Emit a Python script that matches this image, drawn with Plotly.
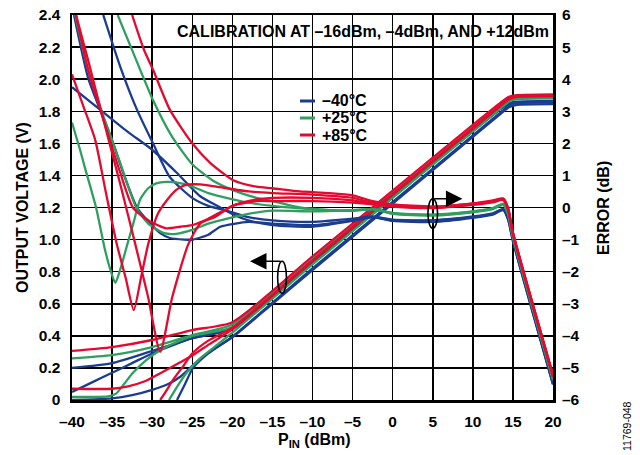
import plotly.graph_objects as go

# ---------------- DATA ----------------
x_ticks = [-40, -35, -30, -25, -20, -15, -10, -5, 0, 5, 10, 15, 20]
x_ticktext = ["–40", "–35", "–30", "–25", "–20", "–15", "–10", "–5", "0", "5", "10", "15", "20"]
v_ticks = [0, 0.2, 0.4, 0.6, 0.8, 1.0, 1.2, 1.4, 1.6, 1.8, 2.0, 2.2, 2.4]
v_ticktext = ["0", "0.2", "0.4", "0.6", "0.8", "1.0", "1.2", "1.4", "1.6", "1.8", "2.0", "2.2", "2.4"]
e_ticks = [-6, -5, -4, -3, -2, -1, 0, 1, 2, 3, 4, 5, 6]
e_ticktext = ["–6", "–5", "–4", "–3", "–2", "–1", "0", "1", "2", "3", "4", "5", "6"]

legend_labels = ["–40°C", "+25°C", "+85°C"]

# Output voltage curves (V) vs PIN (dBm)
bv1_p = [-40, -35, -30, -25, -20, -10, 0, 10, 13.5, 14.5, 15.5, 20]
bv1_v = [0.20, 0.23, 0.306, 0.385, 0.45, 0.86, 1.27, 1.68, 1.82, 1.85, 1.86, 1.865]
bv2_p = [-40, -37.5, -35, -32.5, -30, -25, -20, -10, 0, 10, 13.5, 14.5, 15.5, 20]
bv2_v = [0.05, 0.11, 0.17, 0.23, 0.29, 0.385, 0.445, 0.855, 1.265, 1.675, 1.815, 1.845, 1.855, 1.86]
bv3_p = [-40, -35, -32.5, -29.9, -28, -26.5, -23.7, -20, -15, -10, 0, 10, 13.5, 14.5, 15.5, 20]
bv3_v = [0.0, 0.01, 0.03, 0.065, 0.10, 0.145, 0.27, 0.39, 0.60, 0.81, 1.225, 1.64, 1.785, 1.825, 1.84, 1.845]
bv4_p = [-26.9, -25.9, -24.9, -23, -21, -20, -10, 0, 10, 13.5, 14.5, 15.5, 20]
bv4_v = [0.0, 0.10, 0.20, 0.29, 0.36, 0.395, 0.82, 1.235, 1.65, 1.795, 1.835, 1.85, 1.855]

gv1_p = [-40, -35, -30, -25, -20, -10, 0, 10, 13.5, 14.5, 15.5, 20]
gv1_v = [0.26, 0.28, 0.33, 0.405, 0.47, 0.88, 1.29, 1.70, 1.843, 1.875, 1.885, 1.89]
gv2_p = [-40, -35.5, -34.5, -33.5, -32.4, -30.7, -29, -27, -25, -20, -10, 0, 10, 13.5, 14.5, 15.5, 20]
gv2_v = [0.02, 0.022, 0.04, 0.10, 0.17, 0.25, 0.31, 0.36, 0.40, 0.455, 0.87, 1.28, 1.69, 1.835, 1.87, 1.88, 1.885]
gv3_p = [-27.9, -26.8, -25.7, -24, -22, -20, -10, 0, 10, 13.5, 14.5, 15.5, 20]
gv3_v = [0.0, 0.09, 0.17, 0.26, 0.34, 0.42, 0.845, 1.26, 1.675, 1.82, 1.86, 1.875, 1.88]

rv1_p = [-40, -35, -30, -25, -20, -10, 0, 10, 13.5, 14.5, 15.5, 20]
rv1_v = [0.306, 0.33, 0.374, 0.436, 0.485, 0.895, 1.305, 1.715, 1.855, 1.89, 1.90, 1.905]
rv2_p = [-40, -35, -33, -31, -28.7, -26.5, -24.9, -22.8, -20, -10, 0, 10, 13.5, 14.5, 15.5, 20]
rv2_v = [0.07, 0.07, 0.085, 0.115, 0.175, 0.235, 0.28, 0.35, 0.44, 0.865, 1.28, 1.69, 1.835, 1.875, 1.89, 1.895]
rv3_p = [-29, -28.2, -27.4, -26, -25, -23, -20, -10, 0, 10, 13.5, 14.5, 15.5, 20]
rv3_v = [0.0, 0.06, 0.125, 0.22, 0.29, 0.37, 0.45, 0.87, 1.285, 1.695, 1.84, 1.88, 1.895, 1.90]

# Error curves (dB) vs PIN (dBm)
be1_p = [-39.75, -38, -36.5, -35, -33.5, -31.9, -30.6, -29, -27.8, -26, -24.9, -23, -21.5, -18, -15, -10, -5, -2.5, 0, 5, 10, 12.5, 13.8, 14.4, 15, 20]
be1_e = [6.0, 4.05, 3.05, 2.1, 1.0, 0.0, -0.4, -0.8, -0.95, -1.0, -1.0, -0.85, -0.6, -0.45, -0.5, -0.55, -0.4, -0.3, -0.42, -0.45, -0.32, -0.22, -0.08, -0.38, -1.05, -5.52]
be2_p = [-40, -36.5, -33, -30, -27, -24, -21.5, -20, -18, -15, -10, -5, -2.5, 0, 5, 10, 12.5, 13.8, 14.4, 15, 20]
be2_e = [3.75, 3.05, 2.35, 1.8, 1.1, 0.35, 0.0, -0.2, -0.4, -0.55, -0.6, -0.42, -0.3, -0.4, -0.4, -0.28, -0.18, -0.04, -0.34, -1.0, -5.48]
be3_p = [-36.1, -34, -31.9, -29.9, -27.8, -25, -23, -21.5, -20, -18, -15, -10, -5, -2.5, 0, 5, 10, 12.5, 13.8, 14.4, 15, 20]
be3_e = [6.0, 4.4, 3.05, 2.0, 0.95, 0.3, 0.05, -0.05, -0.15, -0.3, -0.4, -0.45, -0.35, -0.28, -0.38, -0.4, -0.3, -0.2, -0.06, -0.36, -1.02, -5.5]

ge1_p = [-40, -39, -38.4, -37, -35.9, -35.2, -34.6, -34, -33.1, -32.3, -31.5, -30.5, -29.5, -28.2, -27, -25, -23, -21.5, -18, -15, -10, -5, -2.5, 0, 5, 10, 12.5, 13.8, 14.4, 15, 20]
ge1_e = [2.65, 1.8, 1.25, 0.0, -1.3, -1.95, -2.35, -1.95, -1.15, -0.45, 0.25, 0.6, 0.75, 0.8, 0.78, 0.65, 0.45, 0.35, 0.15, 0.05, -0.05, -0.1, -0.05, -0.18, -0.22, -0.12, -0.02, 0.12, -0.18, -0.9, -5.35]
ge2_p = [-39.6, -38, -36.3, -34, -32, -30.5, -28.5, -27, -25, -23, -21.5, -18, -15, -10, -5, -2.5, 0, 5, 10, 12.5, 13.8, 14.4, 15, 20]
ge2_e = [6.0, 4.3, 3.0, 1.4, 0.0, -0.5, -0.8, -0.82, -0.7, -0.5, -0.4, -0.2, -0.1, -0.12, -0.08, -0.05, -0.2, -0.25, -0.15, -0.05, 0.08, -0.22, -0.92, -5.38]
ge3_p = [-34.3, -32, -29.9, -27.5, -25, -22.5, -20, -17, -15, -11.6, -8, -5, -2.5, 0, 5, 10, 12.5, 13.8, 14.4, 15, 20]
ge3_e = [6.0, 4.6, 3.35, 2.2, 1.35, 0.85, 0.55, 0.3, 0.2, 0.0, -0.08, -0.1, -0.05, -0.17, -0.23, -0.13, -0.03, 0.1, -0.2, -0.88, -5.33]

re1_p = [-39.5, -38, -36.1, -34, -32.4, -30.5, -28.2, -26.5, -25, -23, -21.5, -19.5, -17, -15, -10, -5, -2.5, 0, 5, 10, 12.5, 13.8, 14.4, 15, 20]
re1_e = [6.0, 4.3, 2.75, 1.1, 0.0, -0.4, -0.65, -0.6, -0.55, -0.35, -0.15, 0.1, 0.25, 0.3, 0.3, 0.22, 0.12, 0.05, 0.0, 0.1, 0.18, 0.25, -0.05, -0.8, -5.25]
re2_p = [-40, -38.5, -37.1, -35.8, -34.4, -33.3, -32.3, -31.4, -30.5, -29.3, -28.4, -27, -25.9, -24, -22, -18, -15, -10, -5, -2.5, 0, 5, 10, 12.5, 13.8, 14.4, 15, 20]
re2_e = [4.15, 3.1, 2.1, 0.5, -1.15, -2.2, -3.2, -2.2, -1.15, -0.2, 0.15, 0.55, 0.7, 0.72, 0.65, 0.5, 0.45, 0.4, 0.3, 0.15, 0.08, 0.02, 0.12, 0.2, 0.27, -0.03, -0.78, -5.22]
re3_p = [-39.5, -38, -36.1, -34, -32.1, -30.5, -29.0, -27.5, -25.5, -24, -22.2, -20, -17, -15, -10, -5, -2.5, 0, 5, 10, 12.5, 13.8, 14.4, 15, 20]
re3_e = [6.0, 4.6, 2.75, 0.75, -1.15, -2.8, -4.5, -2.8, -1.15, -0.5, -0.3, 0.05, 0.2, 0.2, 0.2, 0.15, 0.1, 0.03, -0.02, 0.08, 0.16, 0.23, -0.07, -0.82, -5.28]
re4_p = [-32.5, -31, -29.9, -27.8, -25, -22.8, -19.9, -17, -15, -11.6, -8, -5, -2.5, 0, 5, 10, 12.5, 13.8, 14.4, 15, 20]
re4_e = [6.0, 4.9, 4.3, 3.05, 2.0, 1.4, 0.85, 0.65, 0.6, 0.5, 0.45, 0.38, 0.2, 0.1, 0.03, 0.13, 0.22, 0.28, -0.02, -0.78, -5.22]

# ---------------- STYLE ----------------
BLUE = "#1b3d8f"
GREEN = "#2f9e5e"
RED = "#e3092f"
FONT = "Liberation Sans, Arial, sans-serif"
LW = 2.3

# plot area in page pixels (page body margin is removed below)
FIG_W, FIG_H = 640, 455
L, R, T, B = 72, 553, 15, 400
W, H = R - L, B - T


def px(xp):
    return (xp - L) / W


def py(yp):
    return (B - yp) / H


fig = go.Figure()


def add_v(p, v, c):
    fig.add_trace(go.Scatter(x=p, y=v, mode="lines", line=dict(color=c, width=LW, shape="spline", smoothing=0.6),
                             showlegend=False, hoverinfo="skip", yaxis="y"))


def add_e(p, e, c):
    fig.add_trace(go.Scatter(x=p, y=e, mode="lines", line=dict(color=c, width=LW, shape="spline", smoothing=0.6),
                             showlegend=False, hoverinfo="skip", yaxis="y2"))


for p, v in [(bv1_p, bv1_v), (bv2_p, bv2_v), (bv3_p, bv3_v), (bv4_p, bv4_v)]:
    add_v(p, v, BLUE)
for p, e in [(be1_p, be1_e), (be2_p, be2_e), (be3_p, be3_e)]:
    add_e(p, e, BLUE)
for p, v in [(gv1_p, gv1_v), (gv2_p, gv2_v), (gv3_p, gv3_v)]:
    add_v(p, v, GREEN)
for p, e in [(ge1_p, ge1_e), (ge2_p, ge2_e), (ge3_p, ge3_e)]:
    add_e(p, e, GREEN)
for p, v in [(rv1_p, rv1_v), (rv2_p, rv2_v), (rv3_p, rv3_v)]:
    add_v(p, v, RED)
for p, e in [(re1_p, re1_e), (re2_p, re2_e), (re3_p, re3_e), (re4_p, re4_e)]:
    add_e(p, e, RED)

tickfont = dict(family=FONT, size=15.5, color="black", weight="bold")

fig.update_layout(
    width=FIG_W, height=FIG_H,
    margin=dict(l=L, r=FIG_W - R, t=T, b=FIG_H - B, autoexpand=False),
    paper_bgcolor="white", plot_bgcolor="white",
    showlegend=False,
    xaxis=dict(range=[-40, 20], tickvals=x_ticks, ticktext=x_ticktext, tickfont=tickfont,
               showgrid=True, gridcolor="black", gridwidth=1.5, zeroline=False,
               showline=True, linecolor="black", linewidth=2.5, mirror=True, ticks="",
               ticklabelstandoff=6, automargin=False, ticklabeloverflow="allow"),
    yaxis=dict(range=[0, 2.4], tickvals=v_ticks, ticktext=v_ticktext, tickfont=tickfont,
               showgrid=True, gridcolor="black", gridwidth=1.5, zeroline=False,
               showline=True, linecolor="black", linewidth=2.5, mirror=True, ticks="",
               ticklabelstandoff=6, automargin=False, ticklabeloverflow="allow"),
    yaxis2=dict(range=[-6, 6], tickvals=e_ticks, ticktext=e_ticktext, tickfont=tickfont,
                overlaying="y", side="right", showgrid=False, zeroline=False,
                showline=False, ticks="", ticklabelstandoff=8, automargin=False,
                ticklabeloverflow="allow"),
)

shapes = []
# title box
shapes.append(dict(type="rect", xref="paper", yref="paper", x0=px(172), x1=1.0,
                   y0=py(47), y1=1.0, fillcolor="white", line=dict(width=0), layer="between"))
# legend box
shapes.append(dict(type="rect", xref="paper", yref="paper", x0=px(293), x1=px(377),
                   y0=py(150), y1=py(88), fillcolor="white", line=dict(width=0), layer="between"))
# legend line samples
for i, c in enumerate([BLUE, GREEN, RED]):
    yy = 101 + 17 * i
    shapes.append(dict(type="line", xref="paper", yref="paper", x0=px(300), x1=px(315),
                       y0=py(yy), y1=py(yy), line=dict(color=c, width=3)))
# ellipses marking curve groups
shapes.append(dict(type="circle", xref="x", yref="y", x0=-14.35, x1=-13.25, y0=0.665, y1=0.865,
                   line=dict(color="black", width=1.6)))
shapes.append(dict(type="circle", xref="x", yref="y", x0=4.4, x1=5.6, y0=1.07, y1=1.255,
                   line=dict(color="black", width=1.6)))
fig.update_layout(shapes=shapes)

bold = dict(family=FONT, size=16, color="black", weight="bold")
ann = []
ann.append(dict(text="CALIBRATION AT –16dBm, –4dBm, AND +12dBm", xref="paper", yref="paper",
                x=px(363), y=py(31), showarrow=False, font=bold, xanchor="center", yanchor="middle"))
for i, lab in enumerate(legend_labels):
    yy = 101 + 17 * i
    ann.append(dict(text=lab, xref="paper", yref="paper", x=px(320), y=py(yy),
                    showarrow=False, xanchor="left", yanchor="middle", font=bold))
ann.append(dict(text="OUTPUT VOLTAGE (V)", xref="paper", yref="paper", x=px(22), y=py(208),
                textangle=-90, showarrow=False, xanchor="center", yanchor="middle", font=bold))
ann.append(dict(text="ERROR (dB)", xref="paper", yref="paper", x=px(603), y=py(208),
                textangle=-90, showarrow=False, xanchor="center", yanchor="middle", font=bold))
ann.append(dict(text="P<sub>IN</sub> (dBm)", xref="paper", yref="paper", x=px(314), y=py(441),
                showarrow=False, xanchor="center", yanchor="middle", font=bold))
ann.append(dict(text="11769-048", xref="paper", yref="paper", x=px(627), y=py(426),
                textangle=-90, showarrow=False, xanchor="center", yanchor="middle",
                font=dict(family=FONT, size=10.5, color="black")))
# arrows from the ellipses to the axes they refer to
ann.append(dict(x=-17.8, y=0.865, ax=-13.8, ay=0.865, xref="x", yref="y", axref="x", ayref="y",
                text="", showarrow=True, arrowhead=2, arrowsize=2.2, arrowwidth=1.5, arrowcolor="black", standoff=0))
ann.append(dict(x=8.7, y=1.255, ax=5.0, ay=1.255, xref="x", yref="y", axref="x", ayref="y",
                text="", showarrow=True, arrowhead=2, arrowsize=2.2, arrowwidth=1.5, arrowcolor="black", standoff=0))
fig.update_layout(annotations=ann)

fig.write_html("out.html", config={"displayModeBar": False, "staticPlot": True},
               post_script="document.body.style.margin='0px';")
